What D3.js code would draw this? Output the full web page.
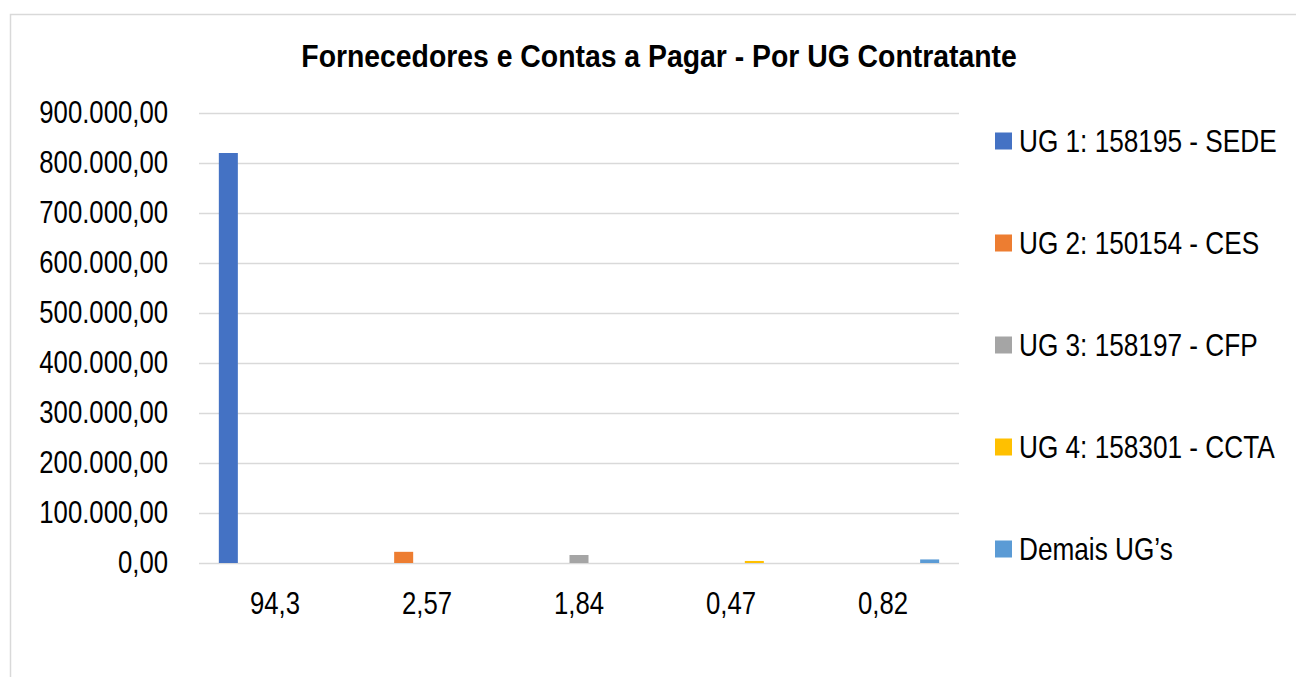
<!DOCTYPE html>
<html>
<head>
<meta charset="utf-8">
<script src="https://cdn.jsdelivr.net/npm/d3@7"></script>
<style>
  body { margin: 0; background: #fff; }
  text { font-family: "Liberation Sans Narrow", "Arial Narrow", "Liberation Sans", sans-serif; fill: #000; }
</style>
</head>
<body>
<div id="chart"></div>
<script>
// categories (percent share shown on the x axis)
const categories = ["94,3", "2,57", "1,84", "0,47", "0,82"];
const seriesNames = ["UG 1: 158195 - SEDE", "UG 2: 150154 - CES", "UG 3: 158197 - CFP", "UG 4: 158301 - CCTA", "Demais UG’s"];
const seriesColors = ["#4472C4", "#ED7D31", "#A5A5A5", "#FFC000", "#5B9BD5"];
// one value per series, each sits in its own category
const seriesValues = [820000, 22350, 16000, 4090, 7130];
const yTicks = [0, 100000, 200000, 300000, 400000, 500000, 600000, 700000, 800000, 900000];

function drawChart(width, height, selector) {

  let margin = { top: 113, left: 199, right: 337, bottom: 114 };
  let chartWidth = width - margin.left - margin.right;
  let chartHeight = height - margin.top - margin.bottom;

  // no narrow font installed, so squeeze the text horizontally
  let squeeze = 0.83;

  let ptBR = d3.formatLocale({ decimal: ",", thousands: ".", grouping: [3], currency: ["R$", ""] });
  let fmt = ptBR.format(",.2f");

  let svg = d3.select(selector)
    .append("svg")
    .attr("width", width)
    .attr("height", height);

  // outer frame
  svg.append("rect")
    .attr("x", 10.5).attr("y", 14.5)
    .attr("width", width + 20).attr("height", height + 20)
    .attr("fill", "none")
    .attr("stroke", "#d9d9d9")
    .attr("stroke-width", 1.5);

  svg.append("text")
    .attr("transform", "translate(659,67) scale(0.915,1)")
    .attr("text-anchor", "middle")
    .attr("font-size", 31)
    .attr("font-weight", "bold")
    .text("Fornecedores e Contas a Pagar - Por UG Contratante");

  let chart = svg.append("g")
    .attr("transform", "translate(" + margin.left + "," + margin.top + ")");

  let x = d3.scaleBand().domain(categories).range([0, chartWidth]);
  let xInner = d3.scaleBand().domain(seriesNames).range([0, x.bandwidth()])
    .paddingInner(0.185).paddingOuter(0.85);
  let y = d3.scaleLinear().domain([0, 900000]).range([chartHeight, 0]);

  // y axis + gridlines
  let yAxis = chart.append("g")
    .call(d3.axisLeft(y).tickValues(yTicks).tickFormat(fmt).tickSize(-chartWidth).tickPadding(31));
  yAxis.select(".domain").remove();
  yAxis.selectAll("line").attr("stroke", "#d9d9d9").attr("stroke-width", 1.5);
  yAxis.selectAll("text")
    .attr("font-size", 31)
    .attr("fill", "#000")
    .attr("x", -31 / squeeze)
    .attr("transform", "scale(" + squeeze + ",1)");

  // bars
  chart.selectAll(".bar")
    .data(seriesValues)
    .join("rect")
    .attr("class", "bar")
    .attr("x", (d, i) => x(categories[i]) + xInner(seriesNames[i]))
    .attr("width", xInner.bandwidth())
    .attr("y", d => y(d))
    .attr("height", d => chartHeight - y(d))
    .attr("fill", (d, i) => seriesColors[i]);

  // x axis labels
  let xAxis = chart.append("g")
    .attr("transform", "translate(0," + chartHeight + ")")
    .call(d3.axisBottom(x).tickSize(0).tickPadding(29));
  xAxis.select(".domain").remove();
  xAxis.selectAll("text")
    .attr("font-size", 31)
    .attr("fill", "#000")
    .attr("transform", "scale(" + squeeze + ",1)");

  // legend
  let legend = svg.append("g")
    .attr("transform", "translate(995,141)");
  let items = legend.selectAll("g")
    .data(seriesNames)
    .join("g")
    .attr("transform", (d, i) => "translate(0," + i * 102 + ")");
  items.append("rect")
    .attr("x", 0).attr("y", -8.5)
    .attr("width", 17).attr("height", 17)
    .attr("fill", (d, i) => seriesColors[i]);
  items.append("text")
    .attr("transform", "translate(24,0) scale(0.845,1)")
    .attr("dy", "0.35em")
    .attr("font-size", 31)
    .text(d => d);
}

drawChart(1296, 677, "#chart");
</script>
</body>
</html>
